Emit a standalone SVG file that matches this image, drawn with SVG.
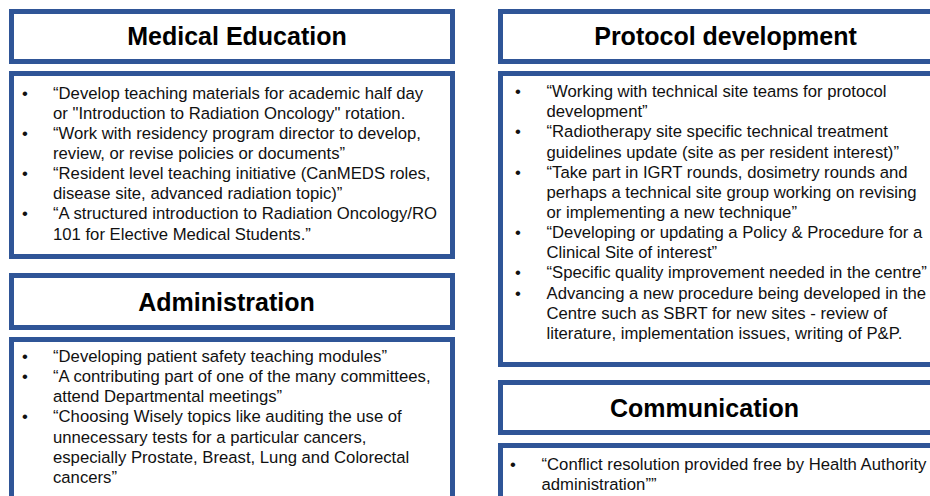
<svg xmlns="http://www.w3.org/2000/svg" width="930" height="496" viewBox="0 0 930 496">
<style>
.box{fill:#ffffff;stroke:#2F5597;stroke-width:5}
.title{font-family:"Liberation Sans",Arial,sans-serif;font-weight:bold;font-size:25px;fill:#000;text-anchor:middle}
.body{font-family:"Liberation Sans",Arial,sans-serif;font-size:16.7px;fill:#111}
</style>
<rect width="930" height="496" fill="#ffffff"/>
<g id="medical-education-title">
<rect class="box" x="11.5" y="11.5" width="441" height="50"/>
<text class="title" x="237" y="45">Medical Education</text>
</g>
<g id="medical-education-body">
<rect class="box" x="11.5" y="73.5" width="441" height="183"/>
<g class="body">
<text x="22" y="98.5">•</text><text x="53" y="98.5">“Develop teaching materials for academic half day</text>
<text x="53" y="118.6">or "Introduction to Radiation Oncology" rotation.</text>
<text x="22" y="138.8">•</text><text x="53" y="138.8">“Work with residency program director to develop,</text>
<text x="53" y="158.9">review, or revise policies or documents”</text>
<text x="22" y="179.1">•</text><text x="53" y="179.1">“Resident level teaching initiative (CanMEDS roles,</text>
<text x="53" y="199.2">disease site, advanced radiation topic)”</text>
<text x="22" y="219.4">•</text><text x="53" y="219.4">“A structured introduction to Radiation Oncology/RO</text>
<text x="53" y="239.5">101 for Elective Medical Students.”</text>
</g>
</g>
<g id="administration-title">
<rect class="box" x="11.5" y="275.5" width="441" height="52"/>
<text class="title" x="226.5" y="310.5">Administration</text>
</g>
<g id="administration-body">
<rect class="box" x="11.5" y="339.5" width="441" height="200"/>
<g class="body">
<text x="22" y="362">•</text><text x="53" y="362">“Developing patient safety teaching modules”</text>
<text x="22" y="382.1">•</text><text x="53" y="382.1">“A contributing part of one of the many committees,</text>
<text x="53" y="402.3">attend Departmental meetings”</text>
<text x="22" y="422.4">•</text><text x="53" y="422.4">“Choosing Wisely topics like auditing the use of</text>
<text x="53" y="442.6">unnecessary tests for a particular cancers,</text>
<text x="53" y="462.7">especially Prostate, Breast, Lung and Colorectal</text>
<text x="53" y="482.9">cancers”</text>
</g>
</g>
<g id="protocol-development-title">
<rect class="box" x="500.5" y="11.5" width="500" height="50"/>
<text class="title" x="725.5" y="45">Protocol development</text>
</g>
<g id="protocol-development-body">
<rect class="box" x="500.5" y="73.5" width="500" height="291"/>
<g class="body">
<text x="515" y="97">•</text><text x="546.5" y="97">“Working with technical site teams for protocol</text>
<text x="546.5" y="117.2">development”</text>
<text x="515" y="137.3">•</text><text x="546.5" y="137.3">“Radiotherapy site specific technical treatment</text>
<text x="546.5" y="157.5">guidelines update (site as per resident interest)”</text>
<text x="515" y="177.6">•</text><text x="546.5" y="177.6">“Take part in IGRT rounds, dosimetry rounds and</text>
<text x="546.5" y="197.8">perhaps a technical site group working on revising</text>
<text x="546.5" y="217.9">or implementing a new technique”</text>
<text x="515" y="238.1">•</text><text x="546.5" y="238.1">“Developing or updating a Policy &amp; Procedure for a</text>
<text x="546.5" y="258.2">Clinical Site of interest”</text>
<text x="515" y="278.4">•</text><text x="546.5" y="278.4">“Specific quality improvement needed in the centre”</text>
<text x="515" y="298.5">•</text><text x="546.5" y="298.5">Advancing a new procedure being developed in the</text>
<text x="546.5" y="318.7">Centre such as SBRT for new sites - review of</text>
<text x="546.5" y="338.8">literature, implementation issues, writing of P&amp;P.</text>
</g>
</g>
<g id="communication-title">
<rect class="box" x="500.5" y="382.5" width="500" height="50"/>
<text class="title" x="704.5" y="416.5">Communication</text>
</g>
<g id="communication-body">
<rect class="box" x="500.5" y="445.5" width="500" height="100"/>
<g class="body">
<text x="510" y="470">•</text><text x="541.5" y="470">“Conflict resolution provided free by Health Authority</text>
<text x="541.5" y="490">administration””</text>
</g>
</g>
<g id="connectors"/>
</svg>
